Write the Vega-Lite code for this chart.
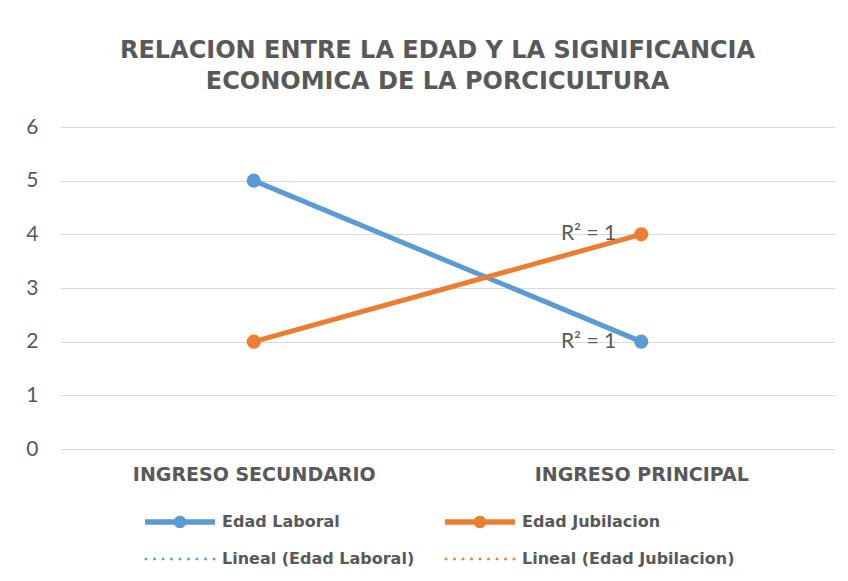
{
  "$schema": "https://vega.github.io/schema/vega-lite/v6.json",
  "width": 775,
  "height": 322,
  "autosize": {"type": "none"},
  "padding": {"left": 60, "top": 127, "right": 13, "bottom": 132},
  "background": "white",
  "title": {
    "text": ["RELACION ENTRE LA EDAD Y LA SIGNIFICANCIA", "ECONOMICA DE LA PORCICULTURA"],
    "font": "DejaVu Sans",
    "fontSize": 24,
    "fontWeight": "bold",
    "color": "#595959",
    "anchor": "middle",
    "frame": "group",
    "dx": -10,
    "offset": 22,
    "lineHeight": 31
  },
  "data": {
    "values": [
      {"categoria": "INGRESO SECUNDARIO", "serie": "Edad Laboral", "valor": 5, "r2": null},
      {"categoria": "INGRESO PRINCIPAL", "serie": "Edad Laboral", "valor": 2, "r2": null},
      {"categoria": "INGRESO SECUNDARIO", "serie": "Edad Jubilacion", "valor": 2, "r2": null},
      {"categoria": "INGRESO PRINCIPAL", "serie": "Edad Jubilacion", "valor": 4, "r2": null},
      {"categoria": "INGRESO SECUNDARIO", "serie": "Lineal (Edad Laboral)", "valor": 5, "r2": null},
      {"categoria": "INGRESO PRINCIPAL", "serie": "Lineal (Edad Laboral)", "valor": 2, "r2": "R² = 1"},
      {"categoria": "INGRESO SECUNDARIO", "serie": "Lineal (Edad Jubilacion)", "valor": 2, "r2": null},
      {"categoria": "INGRESO PRINCIPAL", "serie": "Lineal (Edad Jubilacion)", "valor": 4, "r2": "R² = 1"}
    ]
  },
  "encoding": {
    "x": {
      "field": "categoria",
      "type": "nominal",
      "sort": ["INGRESO SECUNDARIO", "INGRESO PRINCIPAL"],
      "scale": {"paddingInner": 0, "paddingOuter": 0},
      "axis": {
        "title": null,
        "labelAngle": 0,
        "labelFont": "DejaVu Sans",
        "labelFontSize": 19,
        "labelFontWeight": "bold",
        "labelColor": "#595959",
        "labelPadding": 16,
        "labelLimit": 500,
        "domain": false,
        "ticks": false,
        "grid": false
      }
    },
    "y": {
      "field": "valor",
      "type": "quantitative",
      "scale": {"domain": [0, 6], "nice": false},
      "axis": {
        "title": null,
        "values": [0, 1, 2, 3, 4, 5, 6],
        "labelFont": "Lato",
        "labelFontSize": 21,
        "labelColor": "#595959",
        "labelPadding": 22,
        "labelOverlap": false,
        "domain": false,
        "ticks": false,
        "gridColor": "#D9D9D9",
        "gridWidth": 1
      }
    },
    "color": {
      "field": "serie",
      "type": "nominal",
      "scale": {
        "domain": ["Edad Laboral", "Edad Jubilacion", "Lineal (Edad Laboral)", "Lineal (Edad Jubilacion)"],
        "range": ["#5B9BD5", "#ED7D31", "#5B9BD5", "#ED7D31"]
      },
      "legend": {
        "title": null,
        "orient": "none",
        "legendX": 110,
        "legendY": 385,
        "columns": 2,
        "direction": "horizontal",
        "columnPadding": 29,
        "rowPadding": 19,
        "padding": 0,
        "symbolSize": 400,
        "symbolStrokeWidth": 0,
        "labelOffset": 32,
        "labelFont": "DejaVu Sans",
        "labelFontSize": 16,
        "labelFontWeight": "bold",
        "labelColor": "#595959",
        "labelLimit": 400,
        "encode": {"symbols": {"update": {"opacity": {"value": 1}, "fillOpacity": {"value": 1}, "strokeWidth": {"value": 0}}}}
      }
    }
  },
  "layer": [
    {
      "transform": [{"filter": "indexof(datum.serie, 'Lineal') < 0"}],
      "mark": {"type": "line", "strokeWidth": 5, "strokeCap": "round"}
    },
    {
      "transform": [{"filter": "indexof(datum.serie, 'Lineal') < 0"}],
      "mark": {"type": "point", "filled": true, "size": 200, "opacity": 1, "shape": "circle"}
    },
    {
      "transform": [{"filter": "indexof(datum.serie, 'Lineal') >= 0"}],
      "mark": {"type": "line", "strokeWidth": 1.5, "strokeDash": [1.5, 3]}
    },
    {
      "transform": [{"filter": "datum.r2 != null"}],
      "mark": {"type": "text", "align": "right", "baseline": "middle", "dx": -25, "font": "Lato", "fontSize": 21, "color": "#595959"},
      "encoding": {
        "text": {"field": "r2"},
        "color": {"value": "#595959"}
      }
    },
    {
      "mark": {"type": "point", "filled": true, "opacity": 0},
      "encoding": {
        "shape": {
          "field": "serie",
          "type": "nominal",
          "scale": {
            "domain": ["Edad Laboral", "Edad Jubilacion", "Lineal (Edad Laboral)", "Lineal (Edad Jubilacion)"],
            "range": [
              "M-3.5,-0.27H3.5V0.27H-3.5Z M-0.62,0A0.62,0.62 0 1,1 0.62,0A0.62,0.62 0 1,1 -0.62,0Z",
              "M-3.5,-0.27H3.5V0.27H-3.5Z M-0.62,0A0.62,0.62 0 1,1 0.62,0A0.62,0.62 0 1,1 -0.62,0Z",
              "M-3.53,-0.13h0.26v0.26h-0.26Z M-2.68,-0.13h0.26v0.26h-0.26Z M-1.83,-0.13h0.26v0.26h-0.26Z M-0.98,-0.13h0.26v0.26h-0.26Z M-0.13,-0.13h0.26v0.26h-0.26Z M0.72,-0.13h0.26v0.26h-0.26Z M1.57,-0.13h0.26v0.26h-0.26Z M2.42,-0.13h0.26v0.26h-0.26Z M3.27,-0.13h0.26v0.26h-0.26Z",
              "M-3.53,-0.13h0.26v0.26h-0.26Z M-2.68,-0.13h0.26v0.26h-0.26Z M-1.83,-0.13h0.26v0.26h-0.26Z M-0.98,-0.13h0.26v0.26h-0.26Z M-0.13,-0.13h0.26v0.26h-0.26Z M0.72,-0.13h0.26v0.26h-0.26Z M1.57,-0.13h0.26v0.26h-0.26Z M2.42,-0.13h0.26v0.26h-0.26Z M3.27,-0.13h0.26v0.26h-0.26Z"
            ]
          },
          "legend": {
            "title": null,
            "orient": "none",
            "legendX": 110,
            "legendY": 385,
            "columns": 2,
            "direction": "horizontal",
            "columnPadding": 29,
            "rowPadding": 19,
            "padding": 0,
            "symbolSize": 400,
            "symbolStrokeWidth": 0,
            "labelOffset": 32,
            "labelFont": "DejaVu Sans",
            "labelFontSize": 16,
            "labelFontWeight": "bold",
            "labelColor": "#595959",
            "labelLimit": 400,
            "encode": {"symbols": {"update": {"opacity": {"value": 1}, "fillOpacity": {"value": 1}, "strokeWidth": {"value": 0}}}}
          }
        }
      }
    }
  ],
  "config": {
    "view": {"stroke": null}
  }
}
